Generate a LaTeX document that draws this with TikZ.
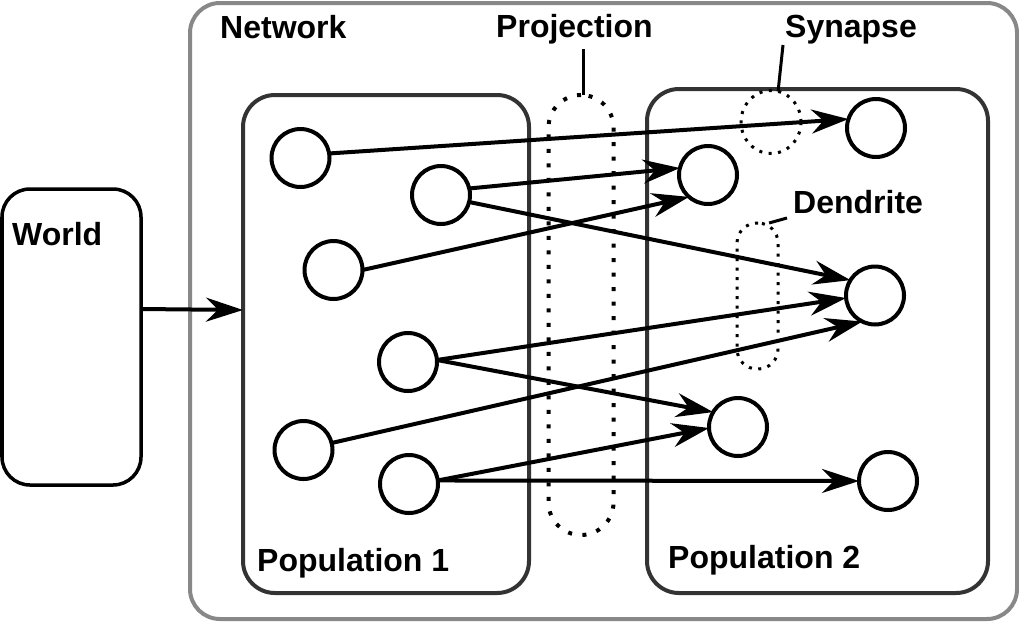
\documentclass[tikz,border=0pt]{standalone}
\usepackage{fontspec}
\setmainfont{Liberation Sans}
\usetikzlibrary{arrows.meta,shapes.geometric}
\definecolor{netgray}{HTML}{888888}
\definecolor{popgray}{HTML}{333333}
\begin{document}
\begin{tikzpicture}[x=1pt,y=-1pt,
  lbl/.style={inner sep=0pt,anchor=base west,font=\bfseries\fontsize{32}{37}\selectfont},
  boxnode/.style={draw,rectangle,inner sep=0pt,outer sep=0pt},
  neuron/.style={draw,circle,line width=4pt,minimum size=58pt,inner sep=0pt,outer sep=0pt},
  conn/.style={line width=4pt,-{Stealth[length=37pt,width=24pt,inset=12pt]}},
  bigdots/.style={draw,line width=4pt,dash pattern=on 4pt off 10.5pt,inner sep=0pt,outer sep=0pt},
  smalldots/.style={draw,line width=3pt,dash pattern=on 3pt off 6.5pt,inner sep=0pt,outer sep=0pt},
  leader/.style={line width=3pt}
]
\useasboundingbox (0,0) rectangle (1019,622);
\fill[white] (0,0) rectangle (1019,622);

% boxes
\node[boxnode,draw=netgray,line width=4pt,rounded corners=30pt,minimum width=827pt,minimum height=616pt] (net) at (603.5,311) {};
\node[boxnode,draw=black,line width=3.5pt,rounded corners=28pt,minimum width=139pt,minimum height=296pt] (world) at (71.5,337) {};
\node[boxnode,draw=popgray,line width=4pt,rounded corners=32pt,minimum width=286pt,minimum height=498pt] (pop1) at (386,344) {};
\node[boxnode,draw=popgray,line width=4pt,rounded corners=32pt,minimum width=341pt,minimum height=504pt] (pop2) at (817.5,341) {};

% dotted groupings
\node[bigdots,rectangle,rounded corners=32.5pt,minimum width=65pt,minimum height=440pt] (proj) at (581,315) {};
\node[smalldots,ellipse,minimum width=60pt,minimum height=63pt] (syn) at (771,122) {};
\node[smalldots,rectangle,rounded corners=20pt,minimum width=41pt,minimum height=146pt] (dend) at (757.5,296) {};

% labels
\node[lbl] (netlbl) at (220,38) {Network};
\node[lbl] (worldlbl) at (12,245) {World};
\node[lbl] (projlbl) at (496,37) {Projection};
\node[lbl] (synlbl) at (785,37) {Synapse};
\node[lbl] (dendlbl) at (793,213) {Dendrite};
\node[lbl] (pop1lbl) at (257,571) {Population 1};
\node[lbl] (pop2lbl) at (668,568) {Population 2};

% leaders
\coordinate (projtop) at (583,49);
\coordinate (syntop) at (783,45);
\coordinate (dendtop) at (787,218);
\draw[leader] (projtop) -- (proj.north -| projtop);
\draw[leader] (syntop) -- (syn.77);
\draw[leader] (dendtop) -- (dend.81);

% neurons population 1
\node[neuron] (A) at (300.5,158) {};
\node[neuron] (B) at (441,195) {};
\node[neuron] (C) at (333.5,270) {};
\node[neuron] (D) at (408,362) {};
\node[neuron] (E) at (303.5,450) {};
\node[neuron] (F) at (409,484) {};
% neurons population 2
\node[neuron] (G) at (876,128) {};
\node[neuron] (H) at (708,175) {};
\node[neuron] (I) at (875,295.5) {};
\node[neuron] (J) at (738,427) {};
\node[neuron] (K) at (888,481) {};

% connections
\draw[conn] (A.9) -- (G.162);
\draw[conn] (B.13) -- (H.166);
\draw[conn] (B.-14) -- (I.148);
\draw[conn] (C.0) -- (H.229);
\draw[conn] (D.4) -- (I.185);
\draw[conn] (D.4) -- (J.149);
\draw[conn] (E.14) -- (I.244);
\draw[conn] (F.7) -- (J.182);
\draw[conn] (F.7) -- (K.180);

% world to network
\draw[conn] (world.east |- 0,309) -- (pop1.west |- 0,310);
\end{tikzpicture}
\end{document}
